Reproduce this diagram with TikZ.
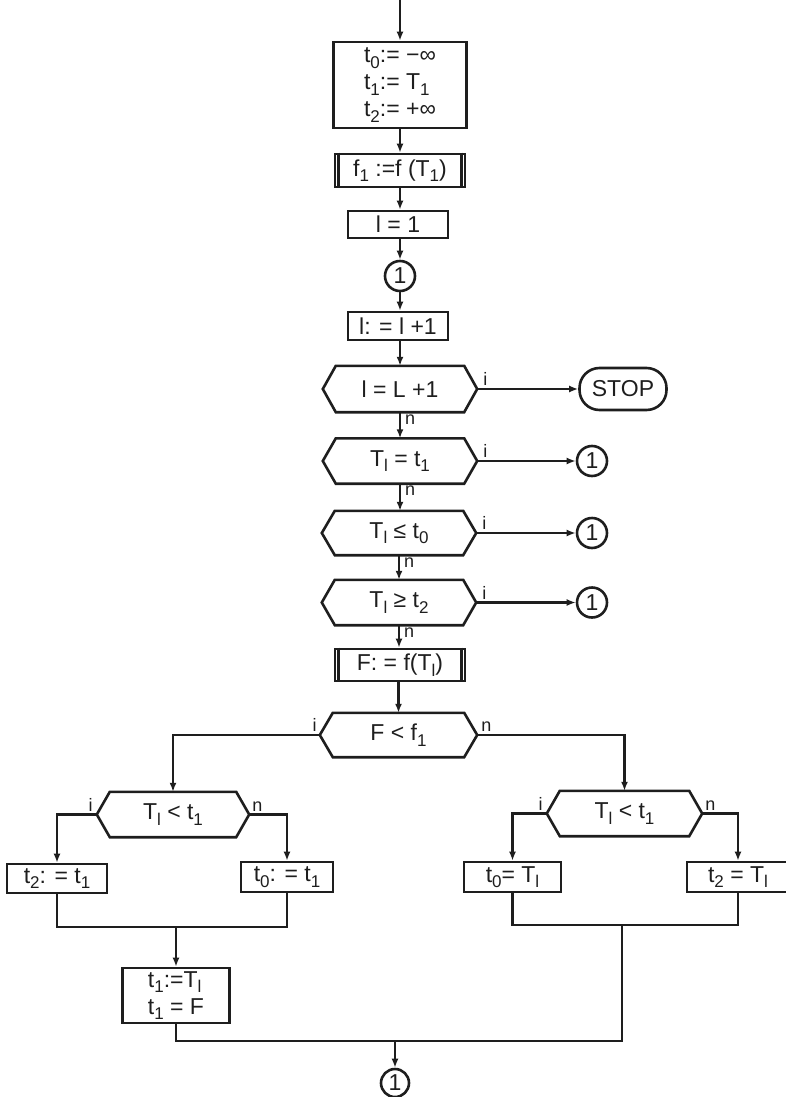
\documentclass[tikz,border=0pt]{standalone}
\usepackage{fontspec}
\setmainfont{Liberation Sans}
\usetikzlibrary{calc,arrows.meta}
\definecolor{inkc}{HTML}{1E1E1E}
% lowered subscript in the text font
\newcommand\lo[1]{\raisebox{-0.45ex}{\fontsize{17}{17}\selectfont #1}}
\tikzset{
  ink/.style={draw=inkc, line width=2.6pt},
  flow/.style={ink, -{Latex[length=9pt,width=7pt]}},
  wire/.style={ink},
  txt/.style={font=\fontsize{23}{27}\selectfont, text=inkc},
  lbl/.style={font=\fontsize{18}{18}\selectfont, text=inkc, inner sep=1pt},
  box/.style={txt, ink, rectangle, inner sep=0pt},
  conn/.style={txt, ink, circle, minimum size=30pt, inner sep=0pt},
  hexbody/.style={txt, rectangle, inner sep=0pt},
  term/.style={txt, ink, rectangle, rounded corners=20pt, inner sep=0pt},
}
% decision: hexagon with pointed left and right ends
\newcommand\hexa[6]{%
  \node[hexbody, minimum width=#4pt, minimum height=#5pt] (#1) at (#2,#3) {#6};
  \draw[ink] (#1.west) -- ($(#1.north west)+(13,0)$) -- ($(#1.north east)+(-13,0)$)
    -- (#1.east) -- ($(#1.south east)+(-13,0)$) -- ($(#1.south west)+(13,0)$) -- cycle;}
% predefined process: box with doubled side edges
\newcommand\sides[1]{%
  \draw[wire] ($(#1.north west)+(5,0)$) -- ($(#1.south west)+(5,0)$);
  \draw[wire] ($(#1.north east)+(-5,0)$) -- ($(#1.south east)+(-5,0)$);}
\begin{document}
\begin{tikzpicture}[x=1pt,y=-1pt]
\useasboundingbox (0,0) rectangle (786,1097);

% main column
\coordinate (entry) at (400,0);
\node[box, minimum width=133pt, minimum height=86pt, align=left] (init) at (400,85)
  {t\lo{0}:= −∞\\ t\lo{1}:= T\lo{1}\\ t\lo{2}:= +∞};
\node[box, minimum width=130pt, minimum height=33pt] (f1) at (400,170.5) {f\lo{1} :=f (T\lo{1})};
\sides{f1}
\node[box, minimum width=100pt, minimum height=27pt] (l1) at (398,224.5) {l = 1};
\node[conn] (c0) at (400,276) {1};
\node[box, minimum width=100pt, minimum height=28pt] (inc) at (398,326) {l: = l +1};
\hexa{h1}{400}{389}{154}{46}{l = L +1}
\node[term, minimum width=87pt, minimum height=42pt] (stop) at (623,389) {STOP};
\hexa{h2}{400}{461}{154}{45}{T\lo{l} = t\lo{1}}
\node[conn] (r1) at (592,461) {1};
\hexa{h3}{399}{533}{154}{44}{T\lo{l} ≤ t\lo{0}}
\node[conn] (r2) at (592,533) {1};
\hexa{h4}{399}{602.5}{154}{45}{T\lo{l} ≥ t\lo{2}}
\node[conn] (r3) at (592,602.5) {1};
\node[box, minimum width=130pt, minimum height=32pt] (F) at (400,665) {F: = f(T\lo{l})};
\sides{F}
\hexa{h5}{398.5}{735}{157}{44}{F < f\lo{1}}

% second level decisions
\hexa{hL}{173}{814.5}{152}{45}{T\lo{l} < t\lo{1}}
\hexa{hR}{624.5}{813.5}{155}{45}{T\lo{l} < t\lo{1}}

% assignments
\node[box, minimum width=100pt, minimum height=29pt] (b1) at (57,878.5) {t\lo{2}: = t\lo{1}};
\node[box, minimum width=92pt, minimum height=30pt] (b2) at (287,877) {t\lo{0}: = t\lo{1}};
\node[box, minimum width=97pt, minimum height=30pt] (b3) at (512.5,877) {t\lo{0}= T\lo{l}};
\node[box, minimum width=102pt, minimum height=30pt] (b4) at (738,877) {t\lo{2} = T\lo{l}};
\node[box, minimum width=107pt, minimum height=55pt, align=left] (b5) at (176,995.5)
  {t\lo{1}:=T\lo{l}\\ t\lo{1} = F};
\node[conn, minimum size=28pt] (cend) at (395,1083) {1};

% connectors, main column
\draw[flow] (entry) -- (init.north);
\draw[flow] (init.south) -- (f1.north);
\draw[flow] (f1.south) -- (l1.north -| f1.south);
\draw[flow] (l1.south -| c0) -- (c0.north);
\draw[flow] (c0.south) -- (inc.north -| c0);
\draw[flow] (inc.south -| h1) -- (h1.north);
\draw[flow] (h1.south) -- (h2.north);
\draw[flow] (h2.south) -- (h3.north -| h2);
\draw[flow] (h3.south) -- (h4.north);
\draw[flow] (h4.south) -- (F.north -| h4);
\draw[flow] (F.south -| h5) -- (h5.north);

% exits to the right
\draw[flow] (h1.east) -- (stop.west);
\draw[flow] (h2.east) -- (r1.west);
\draw[flow] (h3.east) -- (r2.west);
\draw[flow] (h4.east) -- (r3.west);

% branches
\draw[flow] (h5.west) -| (hL.north);
\draw[flow] (h5.east) -| (hR.north);
\draw[flow] (hL.west) -| (b1.north);
\draw[flow] (hL.east) -| (b2.north);
\draw[flow] (hR.west) -| (b3.north);
\draw[flow] (hR.east) -| (b4.north);

% joins
\coordinate (mL) at (176,927);
\coordinate (mR) at (622,925);
\coordinate (mB) at (395,1041);
\draw[wire] (b1.south) |- (mL) -| (b2.south);
\draw[flow] (mL) -- (b5.north);
\draw[wire] (b3.south) |- (mR) -| (b4.south);
\draw[wire] (b5.south) |- (mR |- mB) -- (mR);
\draw[flow] (mB) -- (cend.north);

% branch labels
\node[lbl, anchor=south west] at ($(h1.east)+(5,-2)$) {i};
\node[lbl, anchor=north west] at ($(h1.south)+(4,1)$) {n};
\node[lbl, anchor=south west] at ($(h2.east)+(5,-2)$) {i};
\node[lbl, anchor=north west] at ($(h2.south)+(4,1)$) {n};
\node[lbl, anchor=south west] at ($(h3.east)+(5,-2)$) {i};
\node[lbl, anchor=north west] at ($(h3.south)+(4,1)$) {n};
\node[lbl, anchor=south west] at ($(h4.east)+(5,-2)$) {i};
\node[lbl, anchor=north west] at ($(h4.south)+(4,1)$) {n};
\node[lbl, anchor=south east] at ($(h5.west)+(-2,-2)$) {i};
\node[lbl, anchor=south west] at ($(h5.east)+(3,-2)$) {n};
\node[lbl, anchor=south east] at ($(hL.west)+(-3,-2)$) {i};
\node[lbl, anchor=south west] at ($(hL.east)+(2,-2)$) {n};
\node[lbl, anchor=south east] at ($(hR.west)+(-3,-2)$) {i};
\node[lbl, anchor=south west] at ($(hR.east)+(2,-2)$) {n};
\end{tikzpicture}
\end{document}
